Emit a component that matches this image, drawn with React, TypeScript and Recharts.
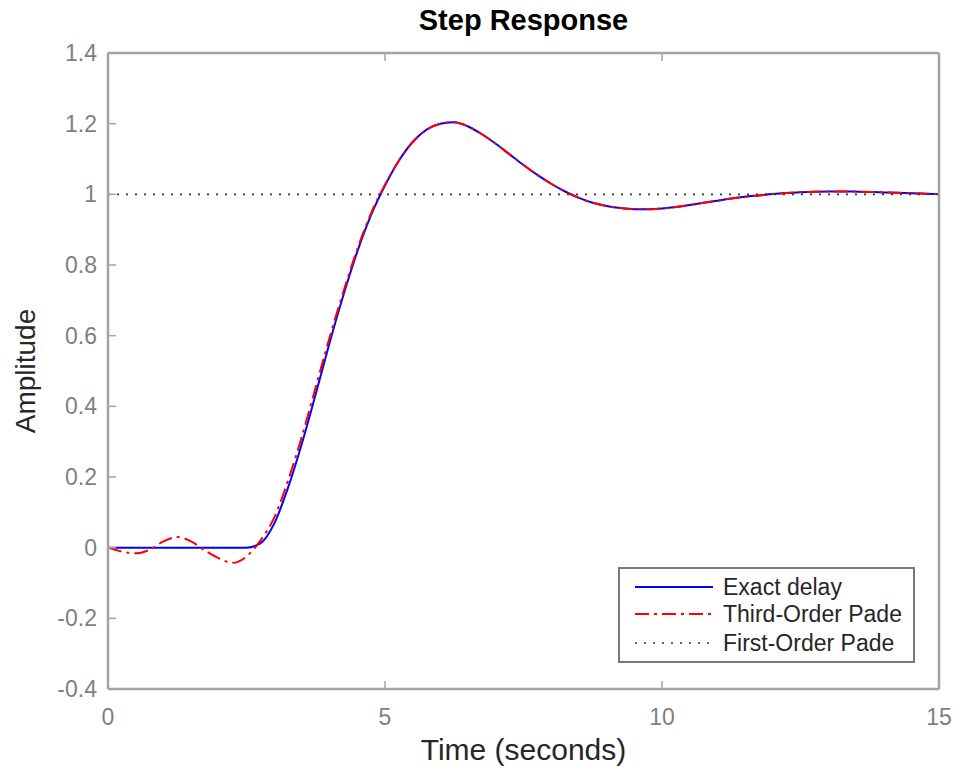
import React from 'react';
import { LineChart, Line, XAxis, YAxis, Legend } from 'recharts';

const timeSec = [
  0, 0.25, 0.5, 0.75, 1, 1.25, 1.5, 1.75, 2, 2.25, 2.5, 2.75, 3, 3.25, 3.5, 3.75, 4, 4.25, 4.5, 4.75,
  5, 5.25, 5.5, 5.75, 6, 6.25, 6.5, 6.75, 7, 7.25, 7.5, 7.75, 8, 8.25, 8.5, 8.75, 9, 9.25, 9.5, 9.75,
  10, 10.25, 10.5, 10.75, 11, 11.25, 11.5, 11.75, 12, 12.25, 12.5, 12.75, 13, 13.25, 13.5, 13.75, 14, 14.25, 14.5, 14.75, 15,
];

const exactDelay = [
  0, 0, 0, 0, 0, 0, 0, 0, 0, 0, 0, 0.012, 0.068, 0.17, 0.295, 0.435, 0.58, 0.715, 0.838, 0.942,
  1.025, 1.095, 1.148, 1.183, 1.2, 1.204, 1.192, 1.17, 1.143, 1.113, 1.083, 1.055, 1.03, 1.008, 0.99, 0.976, 0.967, 0.961, 0.958, 0.958,
  0.96, 0.964, 0.97, 0.976, 0.982, 0.988, 0.993, 0.997, 1.001, 1.004, 1.006, 1.0075, 1.0082, 1.0082, 1.0077, 1.0067, 1.0055, 1.0042, 1.003, 1.0018, 1.0008,
];

const thirdOrderPade = [
  0, -0.011, -0.016, -0.006, 0.018, 0.03, 0.018, -0.008, -0.03, -0.043, -0.025, 0.02, 0.085, 0.19, 0.315, 0.455, 0.595, 0.725, 0.845, 0.947,
  1.027, 1.095, 1.148, 1.183, 1.2, 1.204, 1.192, 1.17, 1.143, 1.113, 1.083, 1.055, 1.03, 1.008, 0.99, 0.976, 0.967, 0.961, 0.958, 0.958,
  0.96, 0.964, 0.97, 0.976, 0.982, 0.988, 0.993, 0.997, 1.001, 1.004, 1.006, 1.0075, 1.0082, 1.0082, 1.0077, 1.0067, 1.0055, 1.0042, 1.003, 1.0018, 1.0008,
];

const firstOrderPade = timeSec.map(() => 1);

const xTicks = [0, 5, 10, 15];
const yTicks = [-0.4, -0.2, 0, 0.2, 0.4, 0.6, 0.8, 1, 1.2, 1.4];

const seriesNames = ['Exact delay', 'Third-Order Pade', 'First-Order Pade'];

const data = timeSec.map((t, i) => ({
  t,
  exact: exactDelay[i],
  third: thirdOrderPade[i],
  first: firstOrderPade[i],
}));

const FONT = '"Liberation Sans", Arial, Helvetica, sans-serif';
const AXIS_COLOR = '#a3a3a3';
const TICK_TEXT = '#7f7f7f';
const LABEL_TEXT = '#262626';
const TICK_LEN = 8;
const X_MARGIN = 28;
const Y_MARGIN = 11;

const fmt = (v: number) => String(Number(v.toFixed(2)));

const BottomTick = (props: any) => {
  const { x, y, payload } = props;
  const axisY = y - X_MARGIN;
  return (
    <g>
      <line x1={x} x2={x} y1={axisY} y2={axisY - TICK_LEN} stroke={AXIS_COLOR} strokeWidth={1.5} />
      <text x={x} y={y} dy="0.35em" textAnchor="middle" fill={TICK_TEXT} fontSize={23} fontFamily={FONT}>
        {fmt(payload.value)}
      </text>
    </g>
  );
};

const LeftTick = (props: any) => {
  const { x, y, payload } = props;
  const axisX = x + Y_MARGIN;
  return (
    <g>
      <line x1={axisX} x2={axisX + TICK_LEN} y1={y} y2={y} stroke={AXIS_COLOR} strokeWidth={1.5} />
      <text x={x} y={y} dy="0.35em" textAnchor="end" fill={TICK_TEXT} fontSize={23} fontFamily={FONT}>
        {fmt(payload.value)}
      </text>
    </g>
  );
};

const TopTick = (props: any) => {
  const { x, y } = props;
  return <line x1={x} x2={x} y1={y} y2={y + TICK_LEN} stroke={AXIS_COLOR} strokeWidth={1.5} />;
};

const RightTick = (props: any) => {
  const { x, y } = props;
  return <line x1={x} x2={x - TICK_LEN} y1={y} y2={y} stroke={AXIS_COLOR} strokeWidth={1.5} />;
};

const renderLegend = (props: any) => {
  const payload = [...(props.payload || [])].sort(
    (a: any, b: any) => seriesNames.indexOf(a.value) - seriesNames.indexOf(b.value)
  );
  const rowTops = [4, 31, 60];
  return (
    <div
      style={{
        position: 'relative',
        width: 297,
        height: 96,
        border: '2px solid #7a7a7a',
        boxSizing: 'border-box',
        background: '#fff',
        fontFamily: FONT,
        fontSize: 23,
        color: LABEL_TEXT,
      }}
    >
      {payload.map((entry: any, i: number) => {
        const p = entry.payload || {};
        return (
          <div
            key={entry.value}
            style={{ position: 'absolute', left: 0, top: rowTops[i], height: 28, display: 'flex', alignItems: 'center', whiteSpace: 'nowrap' }}
          >
            <svg width={103} height={28} style={{ display: 'block' }}>
              <line
                x1={15}
                x2={93}
                y1={14}
                y2={14}
                stroke={entry.color}
                strokeWidth={p.strokeWidth || 2}
                strokeDasharray={p.strokeDasharray}
              />
            </svg>
            <span style={{ lineHeight: '28px' }}>{entry.value}</span>
          </div>
        );
      })}
    </div>
  );
};

export default function App() {
  return (
    <div style={{ position: 'absolute', left: 0, top: 0, width: 961, height: 771, background: '#fff' }}>
      <div
        style={{
          position: 'absolute',
          left: 108,
          width: 831,
          top: 4,
          lineHeight: '32px',
          textAlign: 'center',
          fontFamily: FONT,
          fontWeight: 'bold',
          fontSize: 29,
          color: '#000',
          zIndex: 2,
        }}
      >
        Step Response
      </div>
      <LineChart
        width={961}
        height={771}
        data={data}
        margin={{ top: 23, right: 0, bottom: 32, left: 48 }}
      >
        <XAxis
          xAxisId="bottom"
          dataKey="t"
          type="number"
          domain={[0, 15]}
          ticks={xTicks}
          orientation="bottom"
          height={50}
          tickSize={0}
          tickMargin={X_MARGIN}
          tickLine={false}
          axisLine={{ stroke: AXIS_COLOR, strokeWidth: 2.5 }}
          tick={<BottomTick />}
          interval={0}
          label={{
            value: 'Time (seconds)',
            content: (lp: any) => {
              const vb = lp.viewBox || { x: 108, y: 689, width: 831 };
              return (
                <text
                  x={vb.x + vb.width / 2}
                  y={vb.y + 71}
                  textAnchor="middle"
                  fill={LABEL_TEXT}
                  fontSize={30}
                  fontFamily={FONT}
                >
                  Time (seconds)
                </text>
              );
            },
          }}
        />
        <XAxis
          xAxisId="top"
          dataKey="t"
          type="number"
          domain={[0, 15]}
          ticks={xTicks}
          orientation="top"
          height={30}
          tickSize={0}
          tickMargin={0}
          tickLine={false}
          axisLine={{ stroke: AXIS_COLOR, strokeWidth: 2.5 }}
          tick={<TopTick />}
          interval={0}
        />
        <YAxis
          yAxisId="left"
          type="number"
          domain={[-0.4, 1.4]}
          ticks={yTicks}
          orientation="left"
          width={60}
          tickSize={0}
          tickMargin={Y_MARGIN}
          tickLine={false}
          axisLine={{ stroke: AXIS_COLOR, strokeWidth: 2.5 }}
          tick={<LeftTick />}
          interval={0}
          label={{
            value: 'Amplitude',
            content: (lp: any) => {
              const vb = lp.viewBox || { x: 48, y: 53, height: 636 };
              const cx = 35;
              const cy = vb.y + vb.height / 2;
              return (
                <text
                  x={cx}
                  y={cy}
                  transform={`rotate(-90, ${cx}, ${cy})`}
                  textAnchor="middle"
                  fill={LABEL_TEXT}
                  fontSize={28}
                  fontFamily={FONT}
                >
                  Amplitude
                </text>
              );
            },
          }}
        />
        <YAxis
          yAxisId="right"
          type="number"
          domain={[-0.4, 1.4]}
          ticks={yTicks}
          orientation="right"
          width={22}
          tickSize={0}
          tickMargin={0}
          tickLine={false}
          axisLine={{ stroke: AXIS_COLOR, strokeWidth: 2.5 }}
          tick={<RightTick />}
          interval={0}
        />
        <Line
          xAxisId="bottom"
          yAxisId="left"
          type="monotone"
          dataKey="exact"
          name={seriesNames[0]}
          stroke="#0000ff"
          strokeWidth={2}
          dot={false}
          activeDot={false}
          isAnimationActive={false}
        />
        <Line
          xAxisId="bottom"
          yAxisId="left"
          type="monotone"
          dataKey="third"
          name={seriesNames[1]}
          stroke="#ff0000"
          strokeWidth={2}
          strokeDasharray="14 5 3 5"
          dot={false}
          activeDot={false}
          isAnimationActive={false}
        />
        <Line
          xAxisId="bottom"
          yAxisId="left"
          type="linear"
          dataKey="first"
          name={seriesNames[2]}
          stroke="#333333"
          strokeWidth={1.6}
          strokeDasharray="2 7"
          dot={false}
          activeDot={false}
          isAnimationActive={false}
        />
        <Legend
          layout="horizontal"
          verticalAlign="middle"
          align="center"
          content={renderLegend}
          wrapperStyle={{ left: 618, top: 567, width: 297, height: 96 }}
        />
      </LineChart>
    </div>
  );
}
